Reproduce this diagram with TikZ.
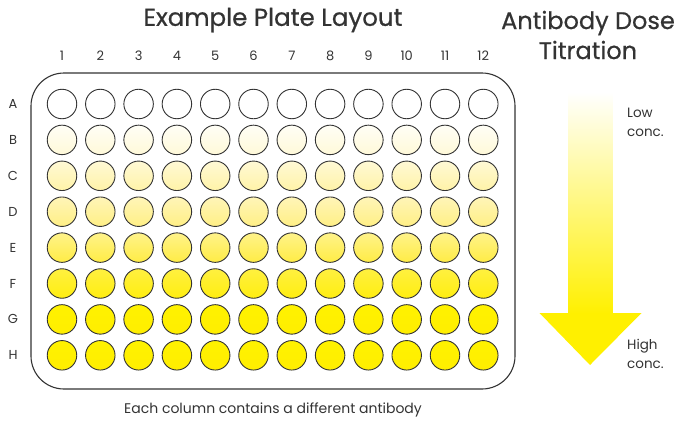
\documentclass[tikz,border=0pt]{standalone}
\usepackage{fontspec}
\setmainfont{Poppins}
\newfontfamily\titlefont[FakeBold=0.6]{Poppins}
\definecolor{txt}{HTML}{333333}
\definecolor{ylw}{HTML}{FFF000}
\definecolor{rAt}{HTML}{FFFFFF}\definecolor{rAb}{HTML}{FFFFFF}
\definecolor{rBt}{HTML}{FFFEF6}\definecolor{rBb}{HTML}{FFF9D8}
\definecolor{rCt}{HTML}{FFF9D5}\definecolor{rCb}{HTML}{FFF3A8}
\definecolor{rDt}{HTML}{FFF5B8}\definecolor{rDb}{HTML}{FFEF85}
\definecolor{rEt}{HTML}{FFF38A}\definecolor{rEb}{HTML}{FFEC45}
\definecolor{rFt}{HTML}{FFF040}\definecolor{rFb}{HTML}{FFEE10}
\definecolor{rGt}{HTML}{FFF200}\definecolor{rGb}{HTML}{FFEE00}
\definecolor{rHt}{HTML}{FFF200}\definecolor{rHb}{HTML}{FFEE00}
\begin{document}
\begin{tikzpicture}[x=1pt,y=-1pt,
  title/.style={text=txt,font=\titlefont\fontsize{24.5}{30}\selectfont,inner sep=0pt},
  lbl/.style={text=txt,font=\fontsize{13}{14}\selectfont,inner sep=0pt},
  side/.style={text=txt,font=\fontsize{13.5}{19}\selectfont,inner sep=0pt,align=left,anchor=west},
  well/.style={circle,draw=txt,line width=0.9pt,minimum size=29.5pt,inner sep=0pt},
  plate/.style={draw=txt,line width=1.1pt,rounded corners=33pt}]
\useasboundingbox (0,0) rectangle (682,421);
% titles
\node[title] (t1) at (273,20) {Example Plate Layout};
\node[title,font=\titlefont\fontsize{24}{30}\selectfont,align=center] (t2) at (588,35) {Antibody Dose\\Titration};
% plate
\draw[plate] (31,73) rectangle (515,389);
% column numbers
\foreach \c in {1,...,12}{
  \node[lbl] (col\c) at ({62+(\c-1)*38.3},56) {\c};
}
% rows
\foreach \r [count=\i from 0] in {A,B,C,D,E,F,G,H}{
  \node[lbl] (row\r) at (13,{104+\i*35.9}) {\r};
  \foreach \c in {1,...,12}{
    \node[well,top color=r\r t,bottom color=r\r b] (w\r\c) at ({62+(\c-1)*38.3},{104+\i*35.9}) {};
  }
}
% bottom text
\node[lbl,font=\fontsize{14}{16}\selectfont] (note) at (273,410) {Each column contains a different antibody};
% arrow
\shade[top color=white,bottom color=ylw,draw=none] (568,92) rectangle (612.5,314);
\fill[ylw] (539.5,313) -- (641.5,313) -- (590,365) -- cycle;
\node[side] (low) at (627,122) {Low\\conc.};
\node[side] (high) at (627,354) {High\\conc.};
\end{tikzpicture}
\end{document}
